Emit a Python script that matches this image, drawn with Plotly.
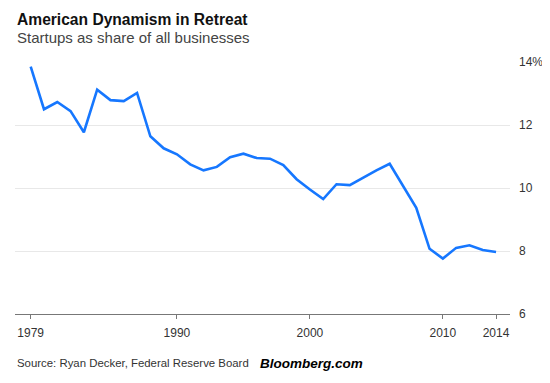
import plotly.graph_objects as go

years = list(range(1979, 2015))
startup_share = [13.85, 12.50, 12.73, 12.44, 11.77, 13.12, 12.79, 12.76, 13.02, 11.64,
                 11.26, 11.07, 10.75, 10.56, 10.67, 10.98, 11.09, 10.95, 10.93, 10.73,
                 10.28, 9.95, 9.65, 10.12, 10.09, 10.33, 10.56, 10.77, 10.06, 9.37,
                 8.07, 7.76, 8.10, 8.18, 8.03, 7.97]
x_tickvals = [1979, 1990, 2000, 2010, 2014]
x_ticktext = ["1979", "1990", "2000", "2010", "2014"]
y_tickvals = [6, 8, 10, 12, 14]
y_ticktext = ["6", "8", "10", "12", "14%"]

FONT = "Liberation Sans, Arial, sans-serif"

# page body has an 8px default margin: work in figure coords = window coords - 8
OFF = 8
W, H = 550 - OFF, 383 - OFF
l, r, t, b = 15 - OFF, W - (510 - OFF), 62 - OFF, H - (314 - OFF)
pw, ph = W - l - r, H - t - b


def px(xp):
    return (xp - OFF - l) / pw


def py(yp):
    return (H - b - (yp - OFF)) / ph


fig = go.Figure()
fig.add_trace(go.Scatter(
    x=years, y=startup_share, mode="lines",
    line=dict(color="#1677ff", width=2.6),
    hoverinfo="skip", cliponaxis=False,
))

fig.update_layout(
    width=W, height=H,
    margin=dict(l=l, r=r, t=t, b=b, autoexpand=False),
    paper_bgcolor="white", plot_bgcolor="white",
    showlegend=False,
    font=dict(family=FONT, color="#333333", size=12),
    xaxis=dict(
        range=[1977.82, 2015.05],
        tickvals=x_tickvals, ticktext=x_ticktext,
        showgrid=False, zeroline=False, automargin=False,
        showline=True, linecolor="#777777", linewidth=1,
        ticks="outside", ticklen=4, tickcolor="#777777", tickwidth=1,
        ticklabelstandoff=4,
        tickfont=dict(size=12, color="#333333"),
    ),
    yaxis=dict(
        range=[6, 14], side="right", automargin=False,
        tickvals=y_tickvals, ticktext=y_ticktext,
        showgrid=True, gridcolor="#e8e8e8", gridwidth=1,
        zeroline=False, showline=False, ticks="",
        ticklabelstandoff=8,
        tickfont=dict(size=12, color="#333333"),
    ),
)

fig.add_annotation(text="<b>American Dynamism in Retreat</b>", x=px(15), y=py(20),
                   xref="paper", yref="paper", xanchor="left", yanchor="middle",
                   showarrow=False, font=dict(family=FONT, size=15.6, color="#111111"))
fig.add_annotation(text="Startups as share of all businesses", x=px(15), y=py(38),
                   xref="paper", yref="paper", xanchor="left", yanchor="middle",
                   showarrow=False, font=dict(family=FONT, size=15, color="#444444"))
fig.add_annotation(text="Source: Ryan Decker, Federal Reserve Board", x=px(15), y=py(363),
                   xref="paper", yref="paper", xanchor="left", yanchor="middle",
                   showarrow=False, font=dict(family=FONT, size=11.4, color="#333333"))
fig.add_annotation(text="<b><i>Bloomberg.com</i></b>", x=px(258), y=py(363),
                   xref="paper", yref="paper", xanchor="left", yanchor="middle",
                   showarrow=False, font=dict(family=FONT, size=13.5, color="#000000"))

fig.write_html("out.html")
